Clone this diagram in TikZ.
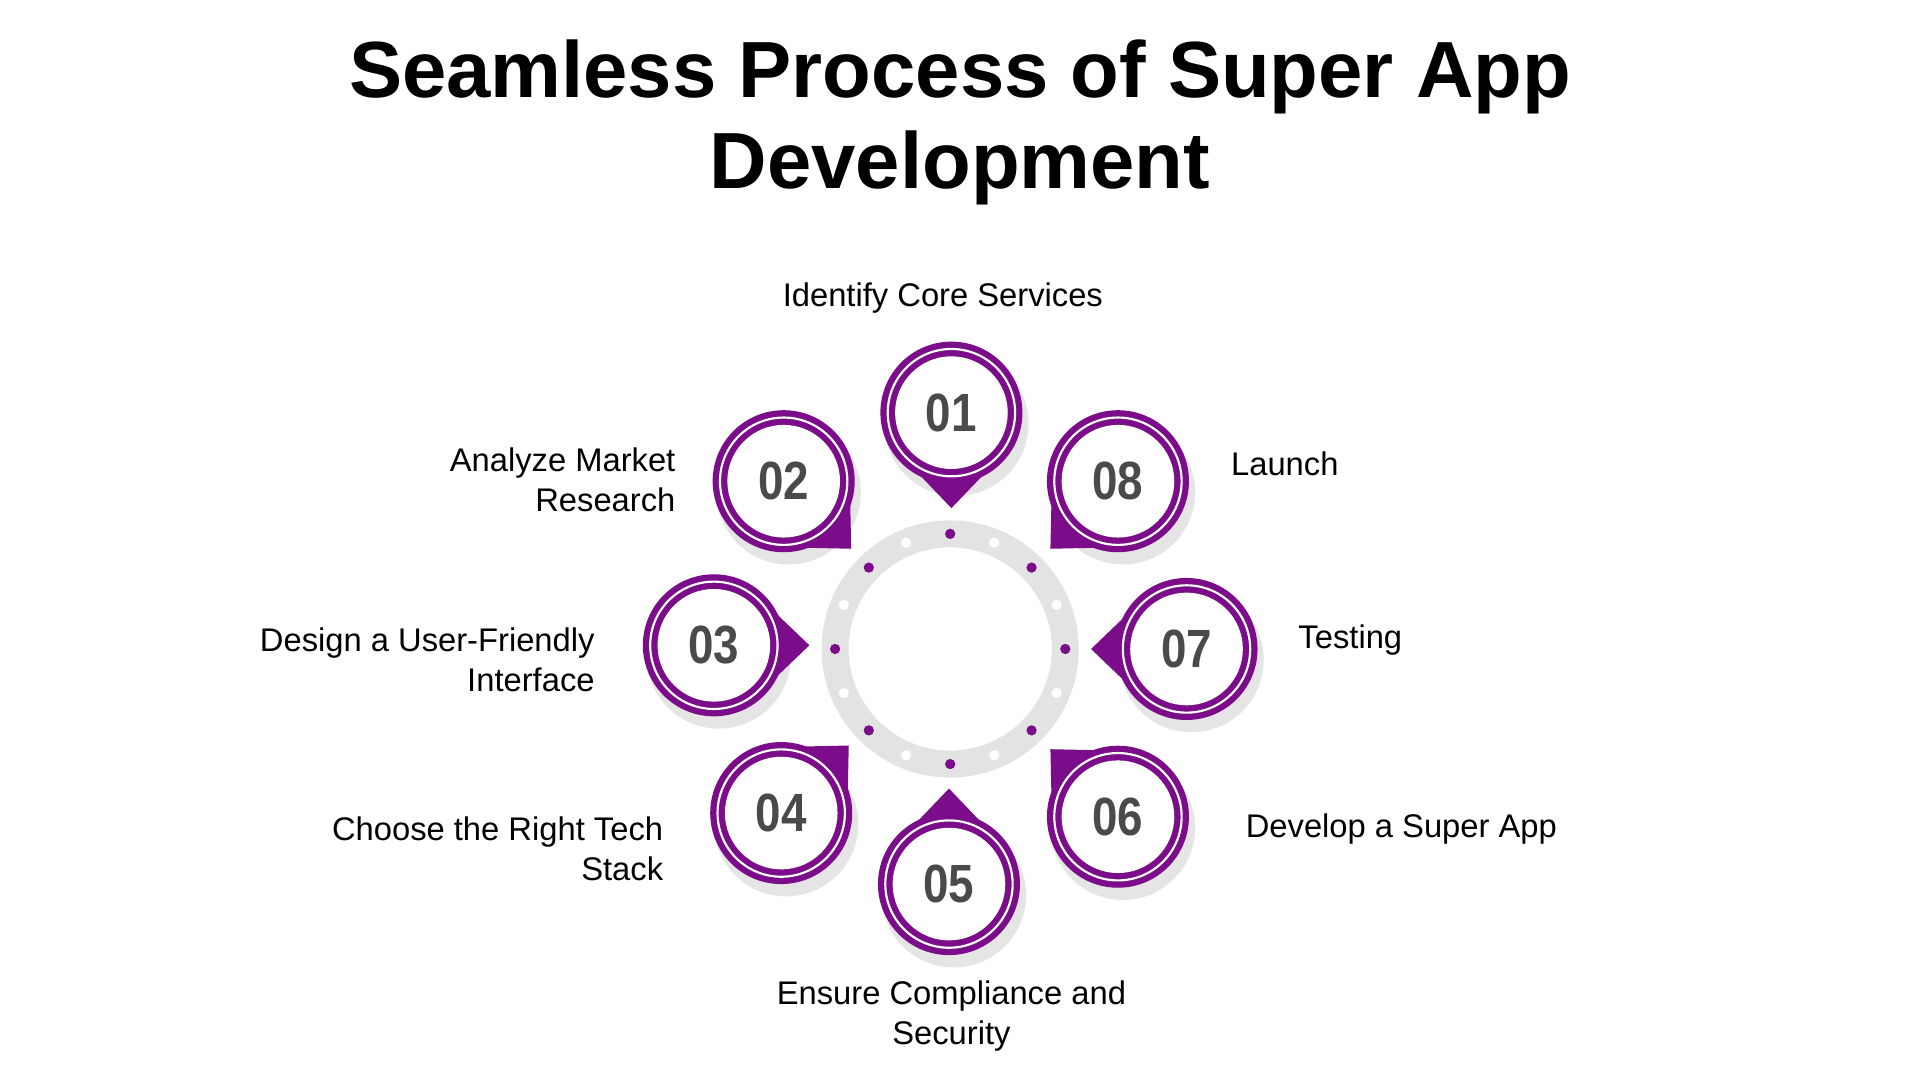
\documentclass[tikz,border=0pt]{standalone}
\usepackage{fontspec}
\setmainfont{Liberation Sans}
\usetikzlibrary{calc}
\definecolor{pur}{HTML}{7B0C8A}
\definecolor{ringg}{HTML}{E3E3E3}
\definecolor{numg}{HTML}{4A4A4A}
\begin{document}
\begin{tikzpicture}[x=0.01cm,y=-0.01cm,
  lbl/.style={font=\fontsize{7.6}{9.2}\selectfont, text=black},
  num/.style={font=\fontsize{12.5}{14}\selectfont\bfseries, text=numg, xscale=0.85}]
\useasboundingbox (0,0) rectangle (1568,882);
\fill[white] (0,0) rectangle (1568,882);
\node[font=\fontsize{18.5}{21}\selectfont\bfseries, align=center] (title) at (784,100) {Seamless Process of Super App\\Development};
% central ring
\coordinate (c) at (776,530);
\draw[ringg, line width=0.22cm] (c) circle[radius=94];
\foreach \a in {0,45,...,315} \fill[pur] ($(c)+(\a:94)$) circle[radius=4.2];
\foreach \a in {22.5,67.5,...,337.5} \fill[white] ($(c)+(\a:94)$) circle[radius=4.2];
% pins
\foreach \nm/\x/\y/\n/\ang in {p1/777/337/01/90,p2/640/393/02/45,p3/583/527/03/0,p4/638/664/04/-45,p5/775/722/05/-90,p6/913/667/06/-135,p7/969/530/07/180,p8/913/393/08/135}{
  \coordinate (\nm) at (\x,\y);
  \fill[black!10] ($(\nm)+(4,9)$) circle[radius=59];
  \fill[pur] ($(\nm)+(\ang+35:55)$) -- ($(\nm)+(\ang:78)$) -- ($(\nm)+(\ang-35:55)$) -- cycle;
  \fill[pur] (\nm) circle[radius=58];
  \draw[white, line width=0.5pt] (\nm) circle[radius=52];
  \fill[white] (\nm) circle[radius=46];
  \node[num] (n\nm) at (\nm) {\n};
}
% labels
\node[lbl] (l1) at (770,243) {Identify Core Services};
\node[lbl, align=right, anchor=east] (l2) at (564,392) {Analyze Market\\Research};
\node[lbl, anchor=west] (l8) at (993,379) {Launch};
\node[lbl, align=right, anchor=east] (l3) at (498,539) {Design a User-Friendly\\Interface};
\node[lbl, anchor=west] (l7) at (1048,523) {Testing};
\node[lbl, align=right, anchor=east] (l4) at (554,693) {Choose the Right Tech\\Stack};
\node[lbl, anchor=west] (l6) at (1005,677) {Develop a Super App};
\node[lbl, align=center] (l5) at (777,830) {Ensure Compliance and\\Security};
\end{tikzpicture}
\end{document}
